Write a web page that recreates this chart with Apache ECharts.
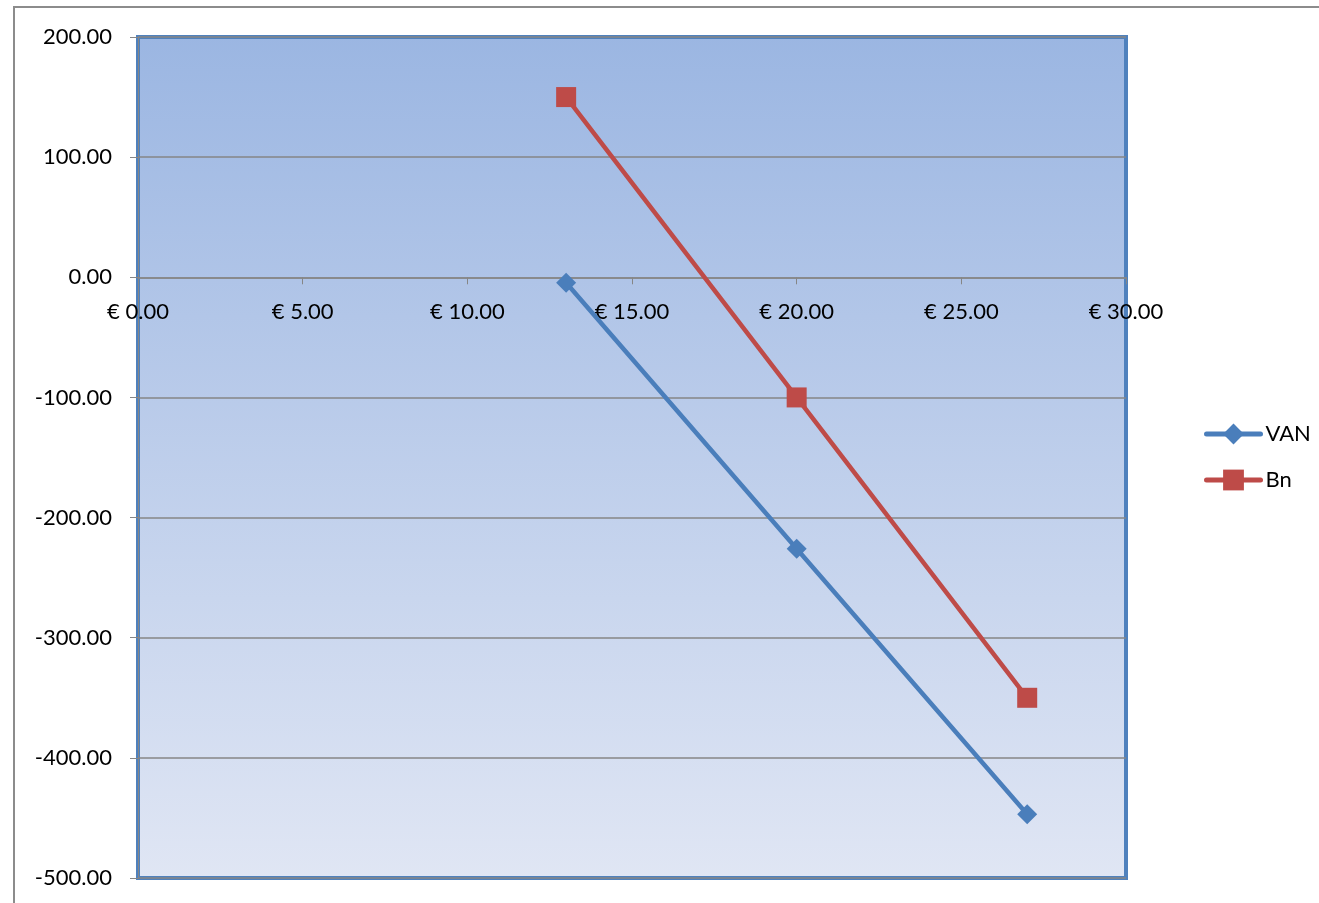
<!DOCTYPE html>
<html><head><meta charset="utf-8">
<script src="https://cdn.jsdelivr.net/npm/echarts@6/dist/echarts.min.js"></script>
<style>html,body{margin:0;padding:0;background:#fff}#c{width:1319px;height:903px}</style>
</head><body><div id="c"></div>
<script>
const xValues = [13, 20, 27];
const vanValues = [-4.5, -226, -447];
const bnValues = [150, -100, -350];
const seriesNames = ['VAN', 'Bn'];

const yMin = -500, yMax = 200;
const gridTop = 37, gridBottom = 25, chartH = 903;
const plotH = chartH - gridTop - gridBottom;
const zeroFromBottom = plotH * (0 - yMin) / (yMax - yMin);

const chart = echarts.init(document.getElementById('c'));
const font = 'Lato, "Open Sans", sans-serif';
chart.setOption({
  animation: false,
  textStyle: { fontFamily: font },
  graphic: [{
    type: 'polyline', silent: true,
    shape: { points: [[14, 903], [14, 7], [1319, 7]] },
    style: { stroke: '#8c8c8c', lineWidth: 2, fill: null }
  }],
  grid: {
    left: 138, top: gridTop, right: 193, bottom: gridBottom,
    outerBoundsMode: 'none', containLabel: false,
    show: true,
    borderColor: '#4F81BD', borderWidth: 4,
    backgroundColor: new echarts.graphic.LinearGradient(0, 0, 0, 1, [
      { offset: 0, color: '#9BB6E2' },
      { offset: 1, color: '#E0E6F4' }
    ])
  },
  legend: {
    orient: 'vertical', left: 1199, top: 418,
    itemWidth: 54, itemHeight: 26, itemGap: 24,
    lineStyle: { width: 5, cap: 'round' },
    textStyle: { fontSize: 22, color: '#000', fontFamily: font },
    data: seriesNames
  },
  xAxis: {
    type: 'value', min: 0, max: 30, interval: 5,
    position: 'bottom', offset: -zeroFromBottom,
    axisLine: { onZero: false, lineStyle: { color: '#868686', width: 1.5 } },
    axisTick: { show: true, length: 7, lineStyle: { color: '#868686' } },
    splitLine: { show: false },
    axisLabel: { fontSize: 22, color: '#000', margin: 24, fontFamily: font,
      formatter: v => '€ ' + v.toFixed(2) }
  },
  yAxis: {
    type: 'value', min: yMin, max: yMax, interval: 100,
    axisLine: { show: true, lineStyle: { color: '#868686' } },
    axisTick: { show: true, length: 8, lineStyle: { color: '#868686' } },
    splitLine: { show: true, lineStyle: { color: '#868686', width: 1.5 } },
    axisLabel: { fontSize: 22, color: '#000', margin: 26, fontFamily: font,
      formatter: v => v.toFixed(2) }
  },
  series: [
    {
      name: 'VAN', type: 'line',
      data: xValues.map((x, i) => [x, vanValues[i]]),
      symbol: 'diamond', symbolSize: 20,
      lineStyle: { color: '#4A7EBB', width: 4.5 },
      itemStyle: { color: '#4A7EBB' }
    },
    {
      name: 'Bn', type: 'line',
      data: xValues.map((x, i) => [x, bnValues[i]]),
      symbol: 'rect', symbolSize: 20,
      lineStyle: { color: '#BE4B48', width: 4.5 },
      itemStyle: { color: '#BE4B48' }
    }
  ]
});
</script></body></html>
